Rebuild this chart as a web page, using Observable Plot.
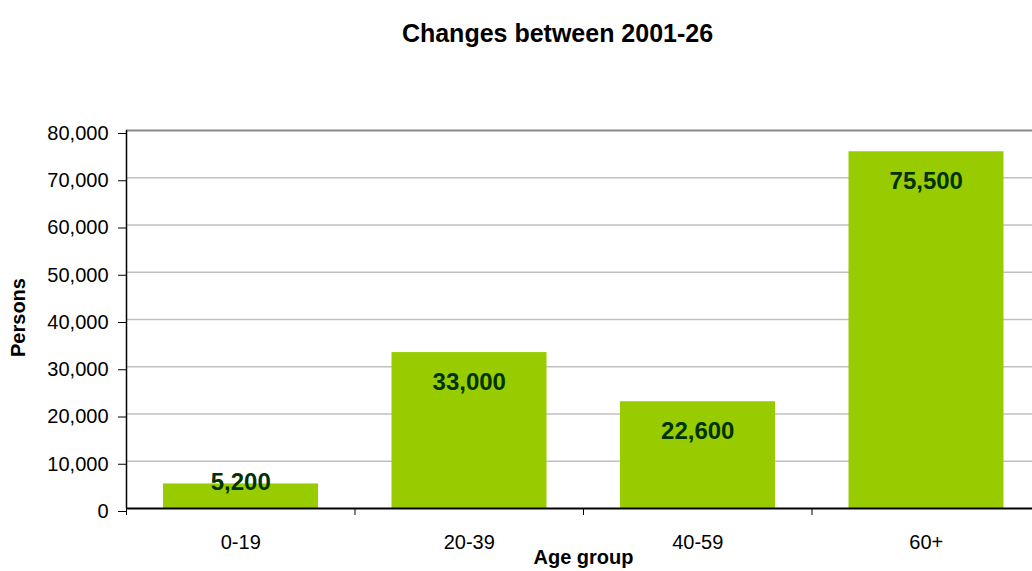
<!DOCTYPE html>
<html>
<head>
<meta charset="utf-8">
<script src="https://cdn.jsdelivr.net/npm/d3@7"></script>
<script src="https://cdn.jsdelivr.net/npm/@observablehq/plot@0.6"></script>
<style>
  html, body { margin: 0; padding: 0; background: #fff; }
</style>
</head>
<body>
<div id="chart"></div>
<script>
const title = "Changes between 2001-26";
const categories = ["0-19", "20-39", "40-59", "60+"];
const values = [5200, 33000, 22600, 75500];
const yTicks = [0, 10000, 20000, 30000, 40000, 50000, 60000, 70000, 80000];
const xTitle = "Age group";
const yTitle = "Persons";
const labelFloor = 11850;

const data = categories.map((c, i) => ({category: c, index: i, value: values[i]}));
const fmt = d3.format(",");

const chart = Plot.plot({
  width: 1032,
  height: 571,
  marginTop: 130,
  marginBottom: 63,
  marginLeft: 126,
  marginRight: 0,
  style: {fontFamily: "'Liberation Sans', Arial, sans-serif", color: "#000", background: "#fff"},
  x: {type: "linear", domain: [0, 4], range: [126, 1040]},
  y: {domain: [0, 80000]},
  marks: [
    Plot.ruleY(yTicks.filter(t => t > 0 && t < 80000), {stroke: "#c0c0c0", strokeWidth: 1.5}),
    Plot.ruleY([80000], {stroke: "#888888", strokeWidth: 2}),
    Plot.rectY(data, {x1: "index", x2: d => d.index + 1, y: "value", insetLeft: 37, insetRight: 36.5, fill: "#99cc00"}),
    Plot.ruleY([0], {stroke: "#000", strokeWidth: 2}),
    Plot.ruleX([0], {stroke: "#000", strokeWidth: 1.5}),
    Plot.axisY({ticks: yTicks, tickSize: 8, tickPadding: 10, tickFormat: fmt, fontSize: 20, dy: 3, label: null}),
    Plot.axisX({ticks: [0, 1, 2, 3, 4], tickSize: 7, tickFormat: () => "", label: null}),
    Plot.axisX({ticks: data.map(d => d.index + 0.5), tickSize: 0, tickPadding: 26, tickFormat: t => categories[Math.floor(t)], fontSize: 20, label: null}),
    Plot.text(data, {x: d => d.index + 0.5, y: d => Math.max(d.value, labelFloor), dy: 30, text: d => fmt(d.value), fill: "#003300", fontSize: 24, fontWeight: "bold"}),
    Plot.text([xTitle], {x: () => 2, frameAnchor: "bottom", dy: 55, fontSize: 20, fontWeight: "bold"}),
    Plot.text([yTitle], {frameAnchor: "left", dx: -108, dy: -2, rotate: -90, textAnchor: "middle", fontSize: 20, fontWeight: "bold"}),
    Plot.text([title], {frameAnchor: "top-left", dx: 431, dy: -106.5, fontSize: 25, fontWeight: "bold", textAnchor: "middle"})
  ]
});
document.getElementById("chart").appendChild(chart);
</script>
</body>
</html>
